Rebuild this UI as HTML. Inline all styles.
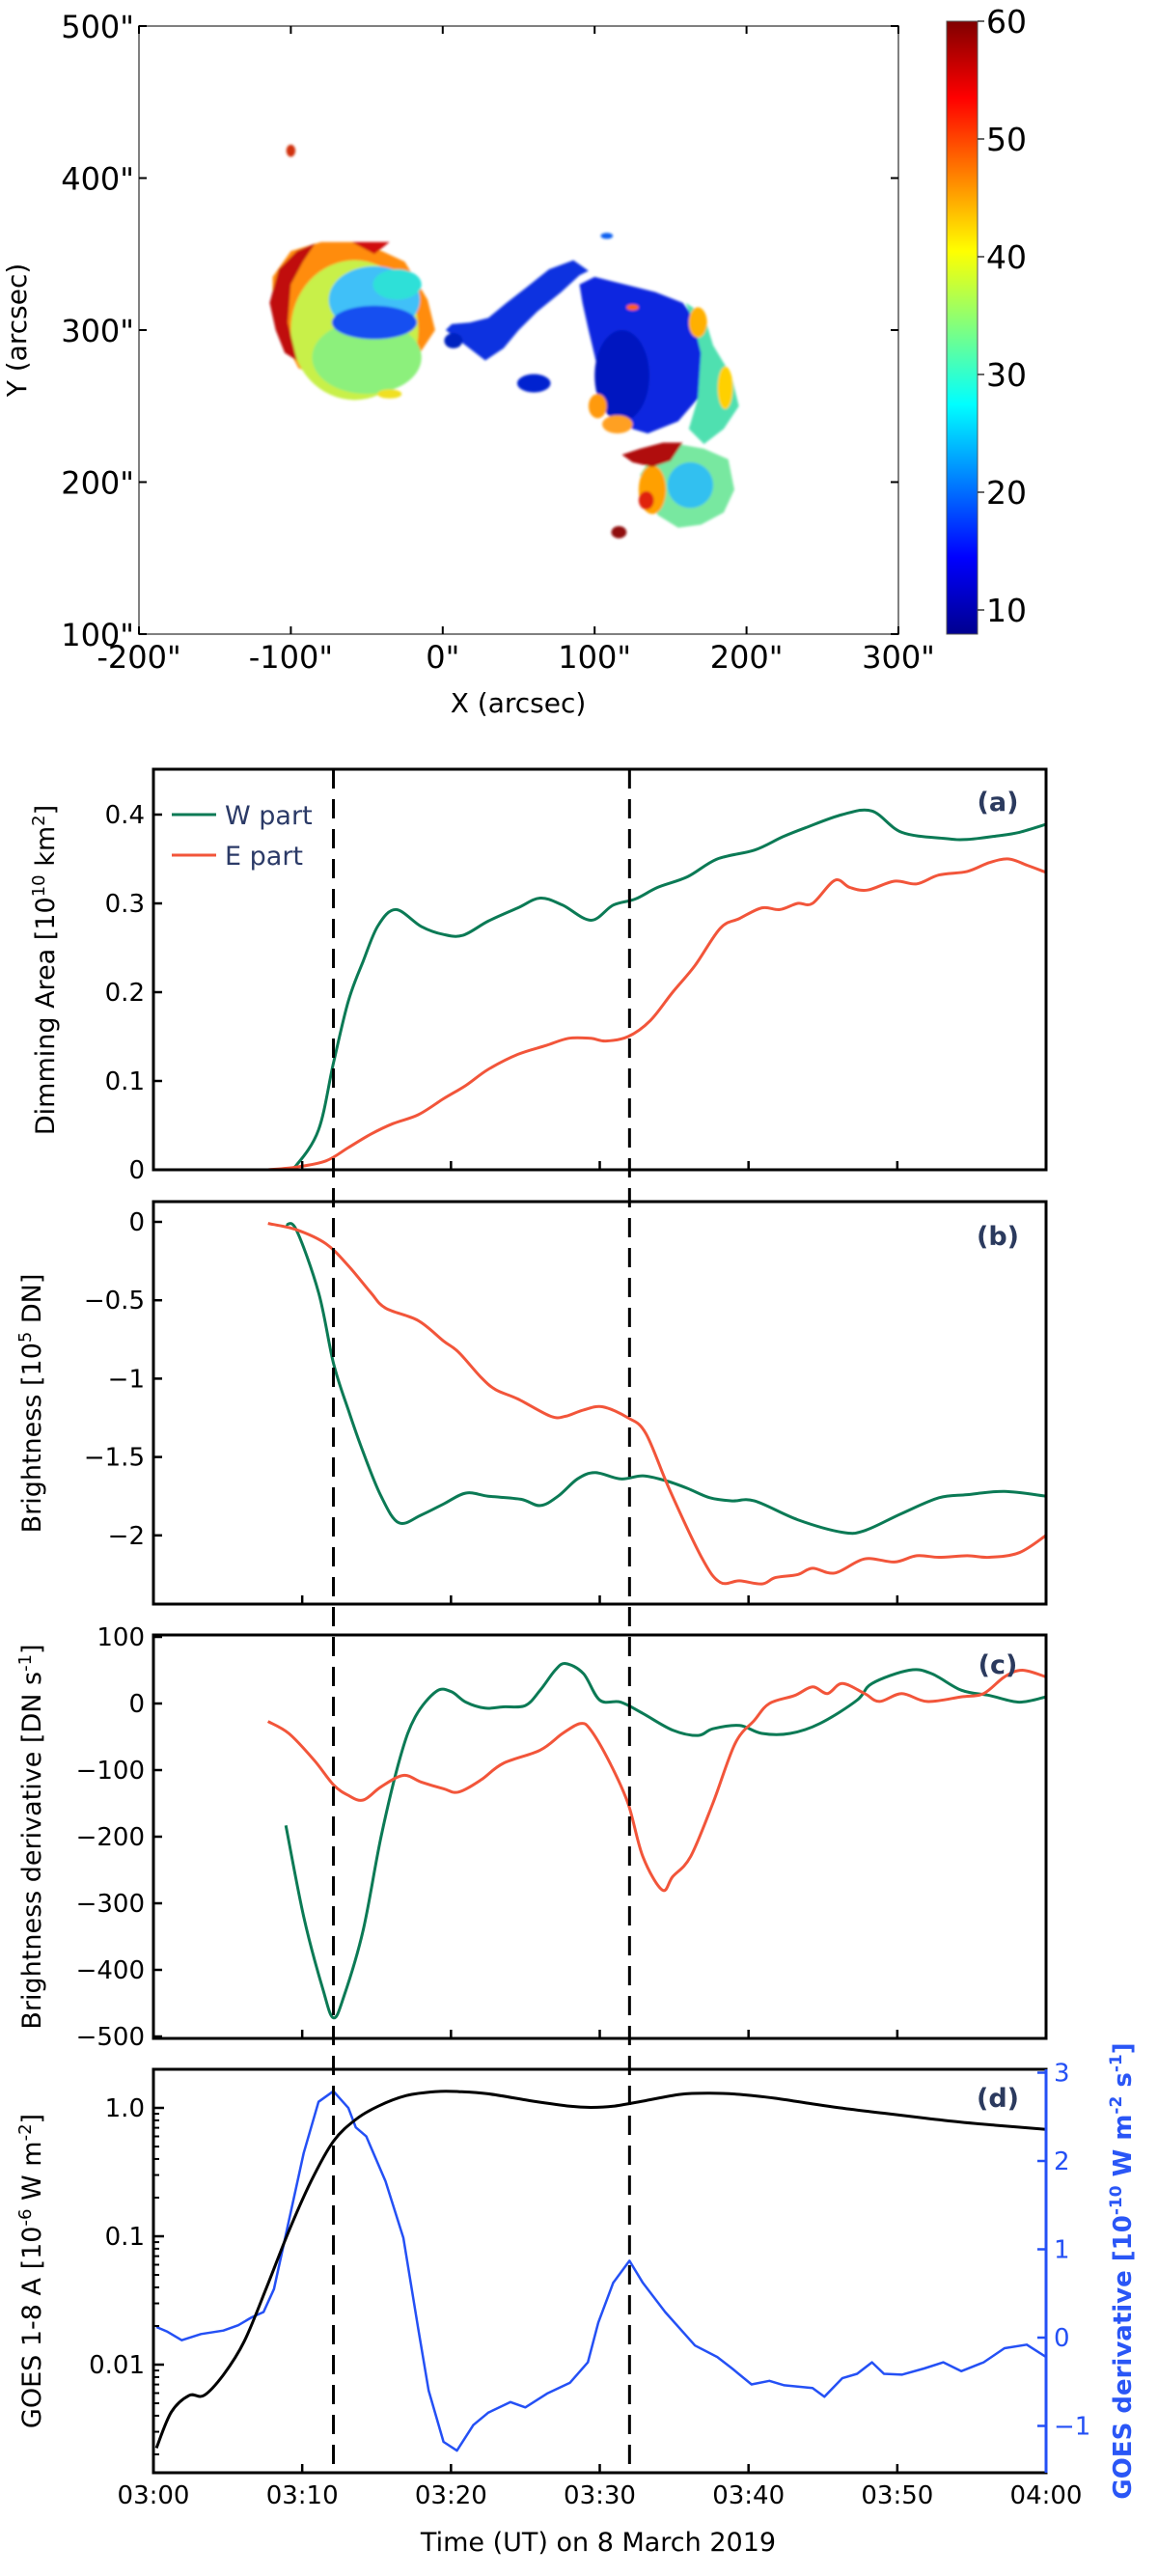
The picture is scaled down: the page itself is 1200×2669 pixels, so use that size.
<!DOCTYPE html>
<html><head><meta charset="utf-8"><style>
html,body{margin:0;padding:0;background:#fff;}
svg{display:block;font-family:"DejaVu Sans","Liberation Sans",sans-serif;}
</style></head><body>
<svg id="fig" width="1200" height="2669" viewBox="0 0 1200 2669" xmlns="http://www.w3.org/2000/svg">
<defs>
<linearGradient id="jet" x1="0" y1="1" x2="0" y2="0">
<stop offset="0" stop-color="#00008f"/><stop offset="0.125" stop-color="#0000ff"/><stop offset="0.375" stop-color="#00ffff"/><stop offset="0.625" stop-color="#ffff00"/><stop offset="0.875" stop-color="#ff0000"/><stop offset="1" stop-color="#800000"/>
</linearGradient>
<clipPath id="cpA"><rect x="159" y="797" width="925" height="415"/></clipPath>
<clipPath id="cpB"><rect x="159" y="1245" width="925" height="417"/></clipPath>
<clipPath id="cpC"><rect x="159" y="1694" width="925" height="418"/></clipPath>
<clipPath id="cpD"><rect x="159" y="2144" width="925" height="418"/></clipPath>
<clipPath id="cpM"><rect x="144" y="27" width="787" height="630"/></clipPath>
<filter id="soft"><feGaussianBlur stdDeviation="1.2"/></filter>
</defs>
<g id="map"></g>
<g id="panels"></g>
</svg>
<script>
// ---------- data ----------
const ticksMin = [10,20,30,40,50];
const xTickLabels = ["03:00","03:10","03:20","03:30","03:40","03:50","04:00"];
const dashTimes = [12.1, 32.0];
// panel a: dimming area
const aWt = [8.9,9.6,11.1,12.1,13.1,14.1,15.1,16.3,18,19.5,20.8,22.5,24.5,26,27.5,29.4,30.9,32.4,33.9,35.9,37.9,40.4,42.3,43.8,46.3,48.3,50.3,53.2,54.7,56.7,58.2,60];
const aWv = [0,0.005,0.045,0.12,0.19,0.235,0.275,0.293,0.274,0.265,0.264,0.28,0.295,0.306,0.298,0.281,0.298,0.305,0.318,0.33,0.35,0.36,0.375,0.385,0.40,0.404,0.38,0.373,0.372,0.376,0.38,0.389];
const aEt = [7.7,9.6,11.6,13.1,14.6,16.1,17.8,19.5,21,22.5,24.5,26.4,27.9,29.4,30.4,31.9,33.4,34.9,36.4,38.1,39.4,40.9,42.1,43.3,44.3,45.8,46.8,48,49.8,51.3,52.8,54.7,56.2,57.5,58.7,60];
const aEv = [0,0.003,0.01,0.025,0.04,0.052,0.062,0.08,0.095,0.113,0.13,0.14,0.148,0.148,0.145,0.15,0.168,0.2,0.23,0.272,0.283,0.295,0.293,0.3,0.3,0.326,0.318,0.315,0.325,0.322,0.332,0.336,0.346,0.35,0.343,0.335];
const aTicks = [0,0.1,0.2,0.3,0.4];
const aTickLabels = ["0","0.1","0.2","0.3","0.4"];
// panel b: brightness
const bWt = [8.9,9.6,11.1,12.1,13.1,14.1,15.3,16.5,18,19.5,21,22.5,24.7,26,27.2,28.5,29.7,31.4,32.9,34.4,35.9,37.4,38.9,40.4,43.3,46.3,47.8,50.3,52.8,54.7,57.2,60];
const bWv = [-0.02,-0.05,-0.45,-0.9,-1.2,-1.47,-1.75,-1.92,-1.87,-1.8,-1.73,-1.75,-1.77,-1.81,-1.75,-1.64,-1.6,-1.64,-1.62,-1.65,-1.7,-1.76,-1.78,-1.78,-1.9,-1.98,-1.97,-1.86,-1.76,-1.74,-1.72,-1.75];
const bEt = [7.7,9.6,11.6,13.1,14.6,15.6,17.8,19.5,20.5,22,23,24.5,26.7,27.7,28.9,30.2,31.9,33.1,34.7,36.9,38.1,39.4,40.9,41.8,43.3,44.3,45.8,47.8,49.8,51.3,52.8,54.7,56.2,58.2,60];
const bEv = [-0.01,-0.05,-0.14,-0.28,-0.45,-0.55,-0.63,-0.76,-0.83,-0.99,-1.07,-1.13,-1.24,-1.24,-1.2,-1.18,-1.25,-1.35,-1.71,-2.15,-2.3,-2.29,-2.31,-2.27,-2.25,-2.21,-2.24,-2.15,-2.17,-2.13,-2.14,-2.13,-2.14,-2.11,-2.0];
const bTicks = [0,-0.5,-1,-1.5,-2];
const bTickLabels = ["0","\u22120.5","\u22121","\u22121.5","\u22122"];
// panel c: brightness derivative
const cWt = [8.9,10.1,11.4,12.1,12.8,14.1,15.3,16.6,17.6,19,20,21,22.3,23.5,25,26,27,27.7,28.9,30,31.4,32.9,34.9,36.6,37.6,39.4,40.9,42.8,44.8,47.3,48.3,50.8,52.3,54.3,56.2,58.2,60];
const cWv = [-183,-320,-430,-472,-440,-340,-200,-80,-20,18,18,2,-7,-5,-3,20,50,60,45,5,2,-15,-40,-48,-38,-33,-45,-45,-30,5,30,50,45,20,12,2,10];
const cEt = [7.7,9.1,10.8,12.1,13.1,14.1,15.3,16.8,18,19.5,20.5,22,23.5,26,27.5,28.7,29.4,30.7,31.9,32.9,34.2,34.9,36.1,37.6,39.1,40.4,41.4,43.1,44.3,45.3,46.3,47.8,48.8,50.3,52,54.3,55.8,57.2,58.4,60];
const cEv = [-27,-45,-85,-122,-138,-145,-125,-108,-118,-128,-133,-115,-90,-70,-45,-30,-40,-90,-150,-230,-280,-260,-230,-150,-60,-25,0,12,25,15,30,15,3,15,3,10,15,40,50,40];
const cTicks = [100,0,-100,-200,-300,-400,-500];
const cTickLabels = ["100","0","\u2212100","\u2212200","\u2212300","\u2212400","\u2212500"];
// panel d: GOES flux (log) and derivative
const gTt = [0.2,1.2,2.4,3.4,4.7,6.1,7.6,9.1,10.6,12.1,13.6,15.1,17,19,20.5,22.5,25.5,28,29.4,30.9,32.9,35.4,37.4,39.4,41.8,44.3,46.8,49.3,51.8,54.2,56.7,60];
const gTlog = [-2.65,-2.37,-2.24,-2.24,-2.08,-1.82,-1.40,-0.96,-0.57,-0.26,-0.09,0.013,0.096,0.127,0.127,0.11,0.053,0.013,0.004,0.013,0.053,0.105,0.114,0.105,0.075,0.031,-0.01,-0.044,-0.079,-0.11,-0.136,-0.167];
const gDt = [0.2,0.9,1.9,3.2,4.7,5.7,6.6,7.4,8.1,9.1,10.1,11.1,12.1,13.1,13.6,14.3,15.6,16.8,17.8,18.5,19.5,20.4,21.5,22.5,24,25,26.5,28,29.2,29.9,30.9,32,32.9,34.4,36.4,37.9,38.9,40.2,41.4,42.4,44.3,45.1,46.3,47.3,48.3,49.1,50.3,51.8,53.1,54.3,55.8,57.2,58.7,60];
const gDv = [0.12,0.07,-0.03,0.04,0.08,0.14,0.23,0.29,0.55,1.32,2.09,2.67,2.79,2.6,2.38,2.28,1.77,1.13,0.1,-0.6,-1.18,-1.28,-0.99,-0.85,-0.73,-0.79,-0.63,-0.51,-0.28,0.17,0.62,0.87,0.62,0.29,-0.09,-0.22,-0.35,-0.53,-0.49,-0.54,-0.57,-0.67,-0.46,-0.41,-0.28,-0.41,-0.42,-0.35,-0.28,-0.38,-0.28,-0.12,-0.08,-0.22];
const dLogTicks = [-2,-1,0];
const dTickLabels = ["0.01","0.1","1.0"];
const rTicks = [3,2,1,0,-1];
const rTickLabels = ["3","2","1","0","\u22121"];
const cbTicks = [10,20,30,40,50,60];

// ---------- scales ----------
const X = m => 159 + m*15.417;
const Ya = v => 1212 - v*920;
const Yb = v => 1266 - v*162.4;
const Yc = v => 1765 - v*0.69;
const Yd = l => 2184 - l*133;
const Yr = v => 2422 - v*91.5;
const mx = a => 144 + (a+200)*1.574;
const my = a => 657 - (a-100)*1.575;
const cbY = v => 657 - (v-7.95)*12.2;

const NS = "http://www.w3.org/2000/svg";
function el(tag, attrs, parent, text){
  const e = document.createElementNS(NS, tag);
  for (const k in attrs) e.setAttribute(k, attrs[k]);
  if (text !== undefined) e.textContent = text;
  parent.appendChild(e);
  return e;
}
function linePath(ts, vs, fx, fy){
  return ts.map((t,i)=>(i?"L":"M")+fx(t).toFixed(1)+","+fy(vs[i]).toFixed(1)).join("");
}
function smoothPath(ts, vs, fx, fy){
  const p = ts.map((t,i)=>[fx(t), fy(vs[i])]);
  let d = "M"+p[0][0].toFixed(1)+","+p[0][1].toFixed(1);
  for (let i=0;i<p.length-1;i++){
    const p0 = p[i-1]||p[i], p1=p[i], p2=p[i+1], p3=p[i+2]||p2;
    const c1=[p1[0]+(p2[0]-p0[0])/6, p1[1]+(p2[1]-p0[1])/6];
    const c2=[p2[0]-(p3[0]-p1[0])/6, p2[1]-(p3[1]-p1[1])/6];
    d += "C"+c1[0].toFixed(1)+","+c1[1].toFixed(1)+" "+c2[0].toFixed(1)+","+c2[1].toFixed(1)+" "+p2[0].toFixed(1)+","+p2[1].toFixed(1);
  }
  return d;
}

const map = document.getElementById("map");
const P = document.getElementById("panels");

// ---------- map ----------
const mg = el("g", {"clip-path":"url(#cpM)", filter:"url(#soft)"}, map);


function poly(pts, fill){
  const d = pts.map((p,i)=>(i?"L":"M")+mx(p[0]).toFixed(1)+","+my(p[1]).toFixed(1)).join("")+"Z";
  const e = el("path", {d:d, fill:fill}, mg);
  
  
}
function ell(cx, cy, rx, ry, fill){
  const e = el("ellipse", {cx:mx(cx), cy:my(cy), rx:rx*1.574, ry:ry*1.575, fill:fill}, mg);
  
  
}
poly([[-112,335],[-100,352],[-80,358],[-60,358],[-40,352],[-25,345],[-10,320],[-5,300],[-15,285],[-25,270],[-40,258],[-60,258],[-80,268],[-95,275],[-108,300],[-112,320]], "#ff8c10");
ell(-58,300,42,46,"#c8f048");
ell(-50,282,36,24,"#8cf07c");
ell(-45,320,30,22,"#40c0f8");
ell(-45,305,28,11,"#1450f0");
ell(-30,330,16,10,"#2fe0d8");
poly([[-114,318],[-108,340],[-96,352],[-84,357],[-92,345],[-100,330],[-102,305],[-96,280],[-104,285],[-110,300]], "#c01008");
poly([[-60,358],[-35,358],[-45,350]], "#d01010");
ell(-35,258,8,3,"#f0e020");
poly([[2,300],[15,290],[28,280],[40,288],[50,300],[62,312],[78,325],[90,336],[96,339],[86,346],[70,340],[55,328],[42,318],[30,308],[18,305],[6,304]], "#0a30e0");
ell(7,293,6,5,"#0020c0");
ell(108,362,4,2,"#1060f0");
poly([[90,330],[100,335],[120,330],[140,325],[158,318],[168,305],[172,280],[168,255],[155,240],[135,232],[115,238],[105,255],[102,275],[96,300],[92,318]], "#0a28e0");
ell(118,270,18,30,"#0018c0");
poly([[160,318],[172,310],[178,290],[190,270],[195,250],[185,235],[172,225],[162,235],[168,255],[170,285],[165,305]], "#50e0b0");
ell(168,305,6,10,"#ffb000");
ell(186,262,5,14,"#ffd000");
ell(102,250,6,8,"#ff9a10");
ell(115,238,10,6,"#ffa020");
ell(125,315,4,2,"#ff6010");
poly([[130,205],[140,220],[155,225],[172,222],[188,215],[192,195],[185,180],[170,172],[155,170],[142,178],[132,190]], "#78e8a0");
ell(163,198,15,15,"#30c0f0");
ell(138,195,9,16,"#ffa000");
ell(134,188,5,6,"#e02010");
poly([[118,218],[130,222],[145,226],[158,226],[150,214],[138,210],[125,213]], "#b00808");
ell(60,265,11,6,"#0020d0");
ell(-100,418,3,4,"#d03010");
ell(116,167,5,4,"#900808");

let e;
e = el("rect", {x:144, y:27, width:787, height:630, fill:"none", stroke:"#808080", "stroke-width":2}, map);
 
const mxt = [-200,-100,0,100,200,300], myt = [100,200,300,400,500];
mxt.forEach(v=>{
  el("line",{x1:mx(v),x2:mx(v),y1:657,y2:649,stroke:"#000","stroke-width":2},map);
  el("line",{x1:mx(v),x2:mx(v),y1:27,y2:35,stroke:"#000","stroke-width":2},map);
  const t = el("text",{x:mx(v),y:692,"font-size":32,"text-anchor":"middle"},map,v+'"');
   
});
myt.forEach(v=>{
  el("line",{x1:144,x2:152,y1:my(v),y2:my(v),stroke:"#000","stroke-width":2},map);
  el("line",{x1:931,x2:923,y1:my(v),y2:my(v),stroke:"#000","stroke-width":2},map);
  const t = el("text",{x:139,y:my(v)+12,"font-size":32,"text-anchor":"end"},map,v+'"');
   
});
e = el("text",{x:537,y:738,"font-size":28,"text-anchor":"middle"},map,"X (arcsec)");
 
e = el("text",{x:0,y:0,"font-size":28,"text-anchor":"middle",transform:"translate(27,342) rotate(-90)"},map,"Y (arcsec)");
 
e = el("rect",{x:981,y:22,width:32,height:635,fill:"url(#jet)",stroke:"#555","stroke-width":1},map);
 
cbTicks.forEach(v=>{
  el("line",{x1:1013,x2:1020,y1:cbY(v),y2:cbY(v),stroke:"#333","stroke-width":1.5},map);
  const t = el("text",{x:1022,y:cbY(v)+12,"font-size":33},map,String(v));
   
});

// ---------- panels ----------
const panels = [
  {top:797, bot:1212, name:"panel-a"},
  {top:1245, bot:1662, name:"panel-b"},
  {top:1694, bot:2112, name:"panel-c"},
  {top:2144, bot:2562, name:"panel-d"}
];
function series(ts, vs, fx, fy, color, clip, name, w, smooth){
  const d = smooth ? smoothPath(ts,vs,fx,fy) : linePath(ts,vs,fx,fy);
  const p = el("path",{d:d,fill:"none",stroke:color,"stroke-width":w||3,"stroke-linejoin":"round","clip-path":"url(#"+clip+")"},P);
  
  
}
function yTicks(vals, labels, fy, name){
  vals.forEach((v,i)=>{
    el("line",{x1:159,x2:168,y1:fy(v),y2:fy(v),stroke:"#000","stroke-width":2.5},P);
    const t = el("text",{x:150,y:fy(v)+9,"font-size":26,"text-anchor":"end"},P,labels[i]);
     
  });
}
series(aWt,aWv,X,Ya,"#0b7a55","cpA","w-part-area-line",3,true);
series(aEt,aEv,X,Ya,"#f2553a","cpA","e-part-area-line",3,true);
series(bWt,bWv,X,Yb,"#0b7a55","cpB","w-part-brightness-line",3,true);
series(bEt,bEv,X,Yb,"#f2553a","cpB","e-part-brightness-line",3,true);
series(cWt,cWv,X,Yc,"#0b7a55","cpC","w-part-derivative-line",3,true);
series(cEt,cEv,X,Yc,"#f2553a","cpC","e-part-derivative-line",3,true);
series(gDt,gDv,X,Yr,"#2450f5","cpD","goes-derivative-line",2.5,false);
series(gTt,gTlog,X,Yd,"#000","cpD","goes-flux-line",3,true);

panels.forEach(p=>{
  const r = el("rect",{x:159,y:p.top,width:925,height:p.bot-p.top,fill:"none",stroke:"#000","stroke-width":3},P);
   
  ticksMin.forEach(m=>{
    el("line",{x1:X(m),x2:X(m),y1:p.bot,y2:p.bot-9,stroke:"#000","stroke-width":2.5},P);
  });
});
dashTimes.forEach(m=>{
  const l = el("line",{x1:X(m),x2:X(m),y1:797,y2:2562,stroke:"#000","stroke-width":3,"stroke-dasharray":"20,11"},P);
   
});
yTicks(aTicks,aTickLabels,Ya,"panel-a-y-tick-label");
yTicks(bTicks,bTickLabels,Yb,"panel-b-y-tick-label");
yTicks(cTicks,cTickLabels,Yc,"panel-c-y-tick-label");
dLogTicks.forEach((l,i)=>{
  el("line",{x1:159,x2:170,y1:Yd(l),y2:Yd(l),stroke:"#000","stroke-width":2.5},P);
  const t = el("text",{x:150,y:Yd(l)+9,"font-size":26,"text-anchor":"end"},P,dTickLabels[i]);
   
});
[-3,-2,-1,0].forEach(dec=>{
  for(let k=2;k<10;k++){
    const y = Yd(dec+Math.log10(k));
    if (y>2144 && y<2562) el("line",{x1:159,x2:165,y1:y,y2:y,stroke:"#000","stroke-width":2},P);
  }
});
e = el("line",{x1:1084,x2:1084,y1:2144,y2:2562,stroke:"#2450f5","stroke-width":3},P);
 
rTicks.forEach((v,i)=>{
  el("line",{x1:1084,x2:1075,y1:Yr(v),y2:Yr(v),stroke:"#2450f5","stroke-width":2.5},P);
  const t = el("text",{x:1092,y:Yr(v)+9,"font-size":26,fill:"#2450f5"},P,rTickLabels[i]);
   
});
xTickLabels.forEach((s,i)=>{
  const t = el("text",{x:X(i*10),y:2594,"font-size":26,"text-anchor":"middle"},P,s);
   
});
</script>
<svg style="position:absolute;left:0;top:0" width="1200" height="2669" xmlns="http://www.w3.org/2000/svg" font-family="DejaVu Sans, Liberation Sans, sans-serif">
<g>
<line x1="178" y1="844" x2="224" y2="844" stroke="#0b7a55" stroke-width="3"/>
<text x="233" y="854" font-size="27" fill="#2b3a67">W part</text>
<line x1="178" y1="886" x2="224" y2="886" stroke="#f2553a" stroke-width="3"/>
<text x="233" y="896" font-size="27" fill="#2b3a67">E part</text>
</g>
<text x="1034" y="840" font-size="27" font-weight="bold" fill="#2b3a5e" text-anchor="middle">(a)</text>
<text x="1034" y="1290" font-size="27" font-weight="bold" fill="#2b3a5e" text-anchor="middle">(b)</text>
<text x="1034" y="1734" font-size="27" font-weight="bold" fill="#2b3a5e" text-anchor="middle">(c)</text>
<text x="1034" y="2183" font-size="27" font-weight="bold" fill="#2b3a5e" text-anchor="middle">(d)</text>
<text transform="translate(56,1005) rotate(-90)" font-size="27" text-anchor="middle">Dimming Area [10<tspan dy="-10" font-size="18">10</tspan><tspan dy="10"> km</tspan><tspan dy="-10" font-size="18">2</tspan><tspan dy="10">]</tspan></text>
<text transform="translate(42,1454) rotate(-90)" font-size="27" text-anchor="middle">Brightness [10<tspan dy="-10" font-size="18">5</tspan><tspan dy="10"> DN]</tspan></text>
<text transform="translate(42,1903) rotate(-90)" font-size="27" text-anchor="middle">Brightness derivative [DN s<tspan dy="-10" font-size="18">-1</tspan><tspan dy="10">]</tspan></text>
<text transform="translate(42,2353) rotate(-90)" font-size="27" text-anchor="middle">GOES 1-8 A [10<tspan dy="-10" font-size="18">-6</tspan><tspan dy="10"> W m</tspan><tspan dy="-10" font-size="18">-2</tspan><tspan dy="10">]</tspan></text>
<text transform="translate(1172,2353) rotate(-90)" font-size="26" font-weight="bold" fill="#2a56f6" text-anchor="middle">GOES derivative [10<tspan dy="-10" font-size="17">-10</tspan><tspan dy="10"> W m</tspan><tspan dy="-10" font-size="17">-2</tspan><tspan dy="10"> s</tspan><tspan dy="-10" font-size="17">-1</tspan><tspan dy="10">]</tspan></text>
<text x="620" y="2643" font-size="27" text-anchor="middle">Time (UT) on 8 March 2019</text>
</svg>
</body></html>
